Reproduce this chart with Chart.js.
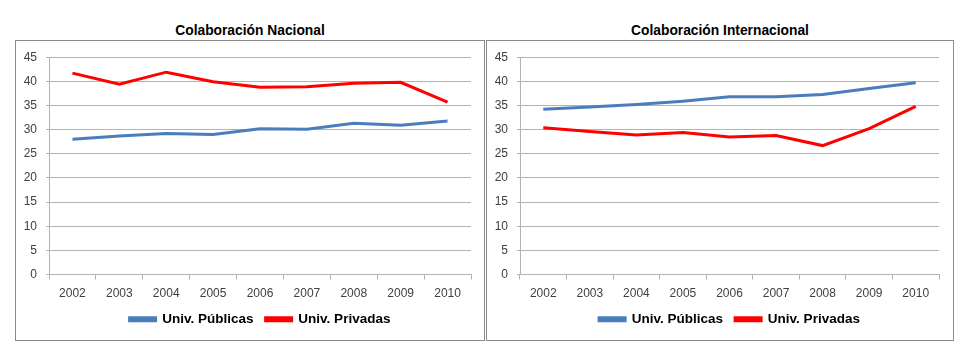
<!DOCTYPE html>
<html>
<head>
<meta charset="utf-8">
<script src="https://cdn.jsdelivr.net/npm/chart.js@4"></script>
<style>
  body { margin: 0; background: #fff; width: 963px; height: 351px; position: relative; font-family: "Liberation Sans", Arial, sans-serif; }
  .titulo { position: absolute; top: 23px; font-weight: bold; font-size: 13.8px; color: #000; text-align: center; }
  .caja { position: absolute; top: 40px; height: 301px; border: 1px solid #8c8c8c; box-sizing: border-box; }
  .caja canvas { position: absolute; left: 0; top: 0; }
</style>
</head>
<body>
<div class="titulo" style="left:16px;width:468px;">Colaboración Nacional</div>
<div class="titulo" style="left:487px;width:466px;">Colaboración Internacional</div>
<div class="caja" style="left:15px;width:470px;"><canvas id="chartNacional"></canvas></div>
<div class="caja" style="left:486px;width:468px;"><canvas id="chartInternacional"></canvas></div>
<script>
// datos
const years = ['2002', '2003', '2004', '2005', '2006', '2007', '2008', '2009', '2010'];
const nacionalPublicas = [28.0, 28.7, 29.2, 29.0, 30.2, 30.1, 31.3, 30.9, 31.8];
const nacionalPrivadas = [41.7, 39.4, 41.9, 39.9, 38.8, 38.9, 39.6, 39.8, 35.7];
const internacionalPublicas = [34.2, 34.7, 35.2, 35.9, 36.8, 36.8, 37.3, 38.5, 39.7];
const internacionalPrivadas = [30.4, 29.6, 28.9, 29.4, 28.5, 28.8, 26.7, 30.2, 34.8];
const yTicks = [0, 5, 10, 15, 20, 25, 30, 35, 40, 45];

const BLUE = '#4a7ebb';
const RED = '#ff0000';
const GRID = '#b3b3b3';

// centra la leyenda bajo el área del gráfico (no bajo todo el canvas)
const centerLegend = {
    id: 'centerLegend',
    afterLayout(chart) {
        const lg = chart.legend;
        if (!lg) return;
        const shift = (chart.chartArea.left + chart.chartArea.right) / 2 - (lg.left + lg.right) / 2;
        lg.left += shift;
        lg.right += shift;
    }
};

function makeChart(id, width, publicas, privadas, padRight) {
    const canvas = document.getElementById(id);
    canvas.width = width;
    canvas.height = 299;
    canvas.style.width = width + 'px';
    canvas.style.height = '299px';
    return new Chart(canvas.getContext('2d'), {
        type: 'line',
        data: {
            labels: years,
            datasets: [
                { label: 'Univ. Públicas', data: publicas, borderColor: BLUE, backgroundColor: BLUE, borderWidth: 3, pointRadius: 0, tension: 0 },
                { label: 'Univ. Privadas', data: privadas, borderColor: RED, backgroundColor: RED, borderWidth: 3, pointRadius: 0, tension: 0 }
            ]
        },
        plugins: [centerLegend],
        options: {
            responsive: false,
            animation: false,
            layout: { padding: { left: 0, right: padRight, top: 15, bottom: 4 } },
            plugins: {
                legend: {
                    position: 'bottom',
                    labels: {
                        boxWidth: 26,
                        boxHeight: 3,
                        padding: 12,
                        color: '#000',
                        font: { family: 'Liberation Sans', size: 13.5, weight: 'bold' }
                    }
                },
                tooltip: { enabled: false }
            },
            scales: {
                x: {
                    offset: true,
                    afterFit: (scale) => { scale.height = 26; },
                    grid: { display: true, drawOnChartArea: false, offset: true, tickLength: 5, color: GRID },
                    border: { color: GRID },
                    ticks: { color: '#404040', padding: 7, font: { family: 'Liberation Sans', size: 12 } }
                },
                y: {
                    min: 0,
                    max: 45,
                    afterBuildTicks: (scale) => { scale.ticks = yTicks.map(v => ({ value: v })); },
                    afterFit: (scale) => { scale.width = 33; },
                    grid: { color: GRID, tickLength: 3 },
                    border: { color: GRID },
                    ticks: { color: '#404040', padding: 9, font: { family: 'Liberation Sans', size: 12 } }
                }
            }
        }
    });
}

makeChart('chartNacional', 468, nacionalPublicas, nacionalPrivadas, 13);
makeChart('chartInternacional', 466, internacionalPublicas, internacionalPrivadas, 14);
</script>
</body>
</html>
